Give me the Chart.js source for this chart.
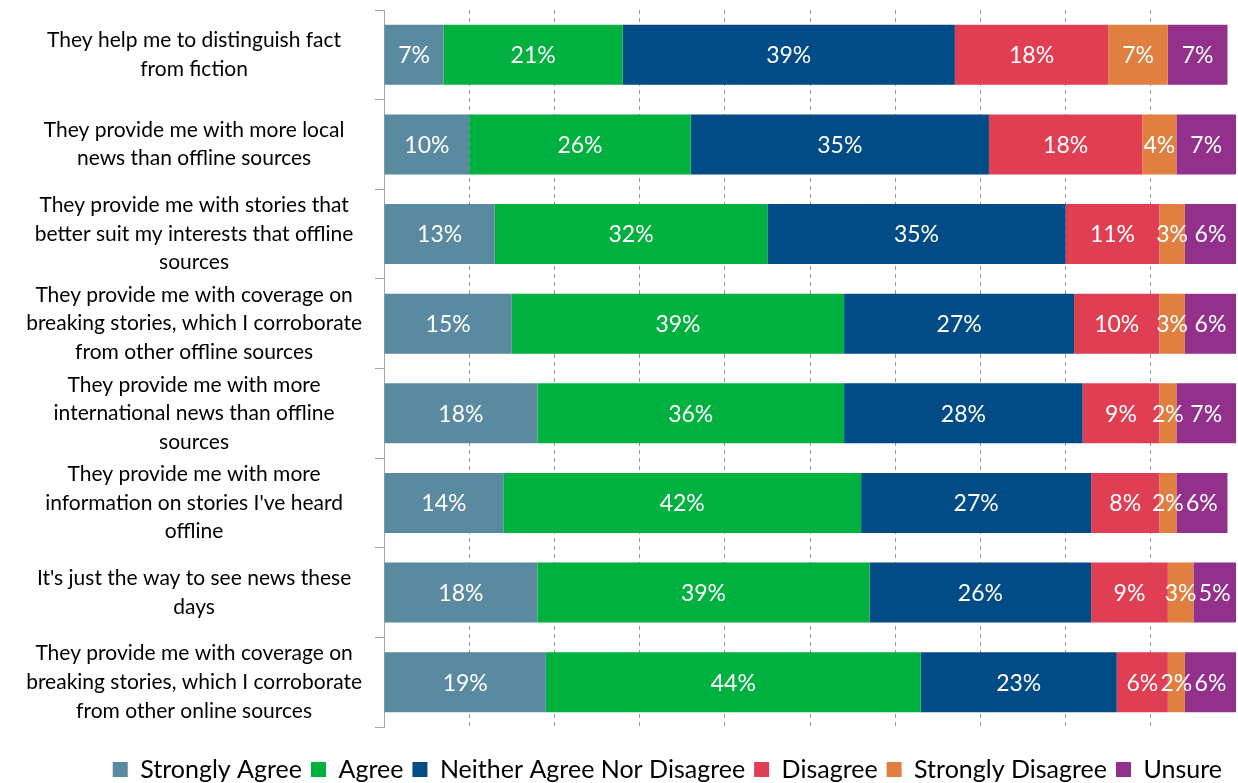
<!DOCTYPE html>
<html>
<head>
<meta charset="utf-8">
<script src="https://cdn.jsdelivr.net/npm/chart.js@4/dist/chart.umd.min.js"></script>
<style>
    html, body { margin: 0; padding: 0; background: #fff; }
    #wrap { width: 1238px; height: 783px; }
</style>
</head>
<body>
<div id="wrap"><canvas id="newsChart" width="1238" height="783"></canvas></div>
<script>
const statements = [
    ["They help me to distinguish fact", "from fiction"],
    ["They provide me with more local", "news than offline sources"],
    ["They provide me with stories that", "better suit my interests that offline", "sources"],
    ["They provide me with coverage on", "breaking stories, which I corroborate", "from other offline sources"],
    ["They provide me with more", "international news than offline", "sources"],
    ["They provide me with more", "information on stories I've heard", "offline"],
    ["It's just the way to see news these", "days"],
    ["They provide me with coverage on", "breaking stories, which I corroborate", "from other online sources"]
];

const strongAgree    = [7, 10, 13, 15, 18, 14, 18, 19];
const agree          = [21, 26, 32, 39, 36, 42, 39, 44];
const neither        = [39, 35, 35, 27, 28, 27, 26, 23];
const disagree       = [18, 18, 11, 10, 9, 8, 9, 6];
const strongDisagree = [7, 4, 3, 3, 2, 2, 3, 2];
const unsure         = [7, 7, 6, 6, 7, 6, 5, 6];

const FONT = "Lato";

// white percentage text in the middle of every segment
const segmentLabels = {
    id: 'segmentLabels',
    afterDatasetsDraw(chart) {
        const ctx = chart.ctx;
        ctx.save();
        ctx.font = "23px " + FONT;
        ctx.fillStyle = "#ffffff";
        ctx.textAlign = "center";
        ctx.textBaseline = "middle";
        chart.data.datasets.forEach((ds, i) => {
            chart.getDatasetMeta(i).data.forEach((bar, j) => {
                const c = bar.getCenterPoint();
                ctx.fillText(ds.data[j] + "%", c.x, c.y + 1);
            });
        });
        ctx.restore();
    }
};

// push the legend row down toward the bottom edge
const legendGap = {
    id: 'legendGap',
    afterLayout(chart) {
        const lg = chart.legend;
        lg.top = chart.chartArea.bottom + 21;
        lg.bottom = lg.top + lg.height;
        lg.right -= 5;
    }
};

function makeSet(label, data, color) {
    return {
        label: label,
        data: data,
        backgroundColor: color,
        borderWidth: 0,
        barPercentage: 1,
        categoryPercentage: 0.67
    };
}

new Chart(document.getElementById("newsChart").getContext("2d"), {
    type: 'bar',
    data: {
        labels: statements,
        datasets: [
            makeSet('Strongly Agree', strongAgree, '#5a8aa0'),
            makeSet('Agree', agree, '#00b140'),
            makeSet('Neither Agree Nor Disagree', neither, '#014b87'),
            makeSet('Disagree', disagree, '#e03e53'),
            makeSet('Strongly Disagree', strongDisagree, '#e07f40'),
            makeSet('Unsure', unsure, '#92308c')
        ]
    },
    options: {
        indexAxis: 'y',
        responsive: false,
        animation: false,
        layout: { padding: { top: 10, right: 2, left: 0, bottom: 12 } },
        plugins: {
            tooltip: { enabled: false },
            legend: {
                position: 'bottom',
                align: 'end',
                labels: {
                    boxWidth: 15,
                    boxHeight: 15,
                    padding: 9,
                    color: '#000',
                    font: { family: FONT, size: 25 }
                }
            }
        },
        scales: {
            x: {
                stacked: true,
                min: 0,
                max: 100,
                ticks: { display: false, stepSize: 10 },
                grid: {
                    drawTicks: false,
                    color: (c) => (c.tick && (c.tick.value === 0 || c.tick.value === 100)) ? 'rgba(0,0,0,0)' : '#9c918c',
                    lineWidth: 1
                },
                border: { display: false, dash: [4, 4] }
            },
            y: {
                stacked: true,
                afterFit: (scale) => {
                    // keep the plot edge fixed and drop the extra room for tall labels
                    scale.width = 384;
                    scale.paddingTop = 0;
                    scale.paddingBottom = 0;
                },
                border: { display: true, color: '#a6a6a6', width: 1 },
                grid: {
                    offset: true,
                    drawOnChartArea: false,
                    drawTicks: true,
                    tickLength: 9,
                    color: '#a6a6a6'
                },
                ticks: {
                    crossAlign: 'center',
                    padding: 13,
                    color: '#000',
                    font: { family: FONT, size: 21, lineHeight: 1.36 }
                }
            }
        }
    },
    plugins: [segmentLabels, legendGap]
});
</script>
</body>
</html>
